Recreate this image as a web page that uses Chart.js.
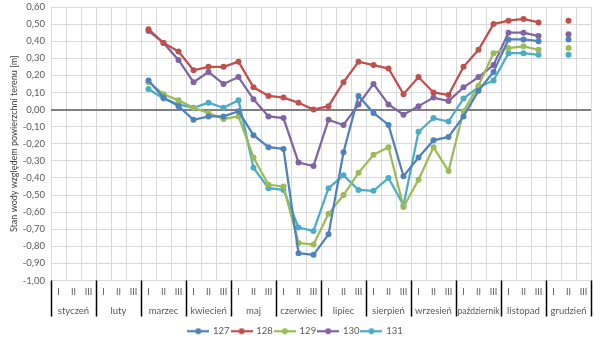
<!DOCTYPE html>
<html>
<head>
<meta charset="utf-8">
<script src="https://cdn.jsdelivr.net/npm/chart.js@4"></script>
<style>
  html, body { margin: 0; padding: 0; background: #fff; }
  #wrap { width: 602px; height: 340px; }
</style>
</head>
<body>
<div id="wrap"><canvas id="chart" width="602" height="340"></canvas></div>
<script>
const months = ['styczeń', 'luty', 'marzec', 'kwiecień', 'maj', 'czerwiec', 'lipiec', 'sierpień', 'wrzesień', 'październik', 'listopad', 'grudzień'];
const decades = ['I', 'II', 'III'];
const yTicks = { min: -1.0, max: 0.6, step: 0.1 };

const seriesNames = ['127', '128', '129', '130', '131'];
const s127 = [null, null, null, null, null, null, 0.17, 0.07, 0.02, -0.06, -0.04, -0.04, -0.01, -0.15, -0.22, -0.23, -0.84, -0.85, -0.73, -0.25, 0.08, -0.02, -0.09, -0.39, -0.28, -0.18, -0.16, -0.04, 0.11, 0.22, 0.41, 0.41, 0.40, null, 0.41, null];
const s128 = [null, null, null, null, null, null, 0.47, 0.39, 0.34, 0.23, 0.25, 0.25, 0.28, 0.13, 0.08, 0.07, 0.04, 0.00, 0.02, 0.16, 0.28, 0.26, 0.24, 0.09, 0.19, 0.10, 0.085, 0.25, 0.35, 0.50, 0.52, 0.53, 0.51, null, 0.52, null];
const s129 = [null, null, null, null, null, null, 0.16, 0.09, 0.055, 0.01, -0.02, -0.055, -0.04, -0.28, -0.44, -0.45, -0.78, -0.79, -0.61, -0.50, -0.37, -0.265, -0.22, -0.57, -0.41, -0.22, -0.36, -0.01, 0.14, 0.33, 0.36, 0.37, 0.35, null, 0.36, null];
const s130 = [null, null, null, null, null, null, 0.46, 0.39, 0.29, 0.16, 0.22, 0.15, 0.19, 0.06, -0.04, -0.05, -0.31, -0.33, -0.06, -0.09, 0.03, 0.15, 0.03, -0.03, 0.02, 0.07, 0.05, 0.13, 0.19, 0.26, 0.45, 0.45, 0.43, null, 0.44, null];
const s131 = [null, null, null, null, null, null, 0.12, 0.065, 0.03, 0.01, 0.04, 0.01, 0.055, -0.34, -0.46, -0.47, -0.69, -0.71, -0.46, -0.385, -0.47, -0.475, -0.40, -0.56, -0.13, -0.05, -0.07, 0.065, 0.13, 0.17, 0.33, 0.33, 0.32, null, 0.32, null];
const colors = ['#4f81bd', '#c0504d', '#9bbb59', '#8064a2', '#4bacc6'];

const labels = [];
months.forEach(m => decades.forEach(d => labels.push(m + ' ' + d)));

const FONT = "Lato, 'Liberation Sans', sans-serif";
const TEXT = '#595959';

// small line + marker picture for the legend
function legendMark(color) {
    const c = document.createElement('canvas');
    c.width = 22; c.height = 8;
    const g = c.getContext('2d');
    g.strokeStyle = color; g.lineWidth = 2.25;
    g.beginPath(); g.moveTo(0, 4); g.lineTo(22, 4); g.stroke();
    g.fillStyle = color;
    g.beginPath(); g.arc(11, 4, 3, 0, Math.PI * 2); g.fill();
    return c;
}

// two level category axis: decades and months, with month separators
const groupAxis = {
    id: 'groupAxis',
    afterDraw(chart) {
        const x = chart.scales.x;
        const area = chart.chartArea;
        const g = chart.ctx;
        g.save();
        g.fillStyle = TEXT;
        g.textAlign = 'center';
        g.textBaseline = 'middle';
        g.font = '9px ' + FONT;
        labels.forEach((l, i) => {
            g.fillText(decades[i % 3], x.getPixelForValue(i), area.bottom + 12);
        });
        g.font = '9.5px ' + FONT;
        months.forEach((m, k) => {
            const cx = (x.getPixelForValue(k * 3) + x.getPixelForValue(k * 3 + 2)) / 2;
            g.fillText(m, cx, area.bottom + 30, 42);
        });
        g.strokeStyle = '#000';
        g.lineWidth = 1.5;
        for (let k = 0; k <= months.length; k++) {
            let sx;
            if (k === 0) sx = area.left;
            else if (k === months.length) sx = area.right;
            else sx = (x.getPixelForValue(k * 3 - 1) + x.getPixelForValue(k * 3)) / 2;
            sx = Math.round(sx) + 0.5;
            g.beginPath();
            g.moveTo(sx, area.bottom);
            g.lineTo(sx, area.bottom + 36);
            g.stroke();
        }
        g.restore();
    }
};

const series = [s127, s128, s129, s130, s131];

new Chart(document.getElementById('chart'), {
    type: 'line',
    data: {
        labels: labels,
        datasets: series.map((s, i) => ({
            label: seriesNames[i],
            data: s,
            borderColor: colors[i],
            backgroundColor: colors[i],
            pointBackgroundColor: colors[i],
            pointBorderColor: colors[i],
            pointRadius: 3,
            pointBorderWidth: 0,
            borderWidth: 2.25,
            tension: 0,
            spanGaps: false
        }))
    },
    options: {
        responsive: false,
        animation: false,
        layout: { padding: { top: 7, right: 11, left: 0, bottom: -6 } },
        plugins: {
            tooltip: { enabled: false },
            legend: {
                position: 'bottom',
                labels: {
                    usePointStyle: true,
                    pointStyleWidth: 20,
                    padding: 2,
                    color: TEXT,
                    font: { size: 9.5, family: FONT },
                    generateLabels: chart => chart.data.datasets.map((d, i) => ({
                        text: d.label,
                        pointStyle: legendMark(colors[i]),
                        fillStyle: colors[i],
                        strokeStyle: colors[i],
                        lineWidth: 0,
                        fontColor: TEXT,
                        datasetIndex: i
                    }))
                }
            }
        },
        scales: {
            x: {
                offset: true,
                grid: { offset: true, color: '#d9d9d9', lineWidth: 1, drawTicks: false },
                border: { display: false },
                ticks: { display: false },
                afterFit: scale => { scale.height = 44; }
            },
            y: {
                min: yTicks.min,
                max: yTicks.max,
                border: { display: false },
                grid: {
                    drawTicks: false,
                    color: ctx => Math.abs(ctx.tick.value) < 1e-9 ? '#7f7f7f' : '#d9d9d9',
                    lineWidth: ctx => Math.abs(ctx.tick.value) < 1e-9 ? 2 : 1
                },
                ticks: {
                    stepSize: yTicks.step,
                    padding: 6,
                    color: TEXT,
                    font: { size: 9.5, family: FONT },
                    callback: v => v.toFixed(2).replace('.', ',').replace('-0,00', '0,00')
                },
                title: {
                    display: true,
                    text: 'Stan wody względem powierzchni terenu [m]',
                    color: '#404040',
                    font: { size: 9, family: FONT },
                    padding: { top: 9, bottom: 0 }
                },
                afterFit: scale => {
                    scale.width = 51;
                    scale.paddingTop = 0;
                    scale.paddingBottom = 0;
                }
            }
        }
    },
    plugins: [groupAxis]
});
</script>
</body>
</html>
